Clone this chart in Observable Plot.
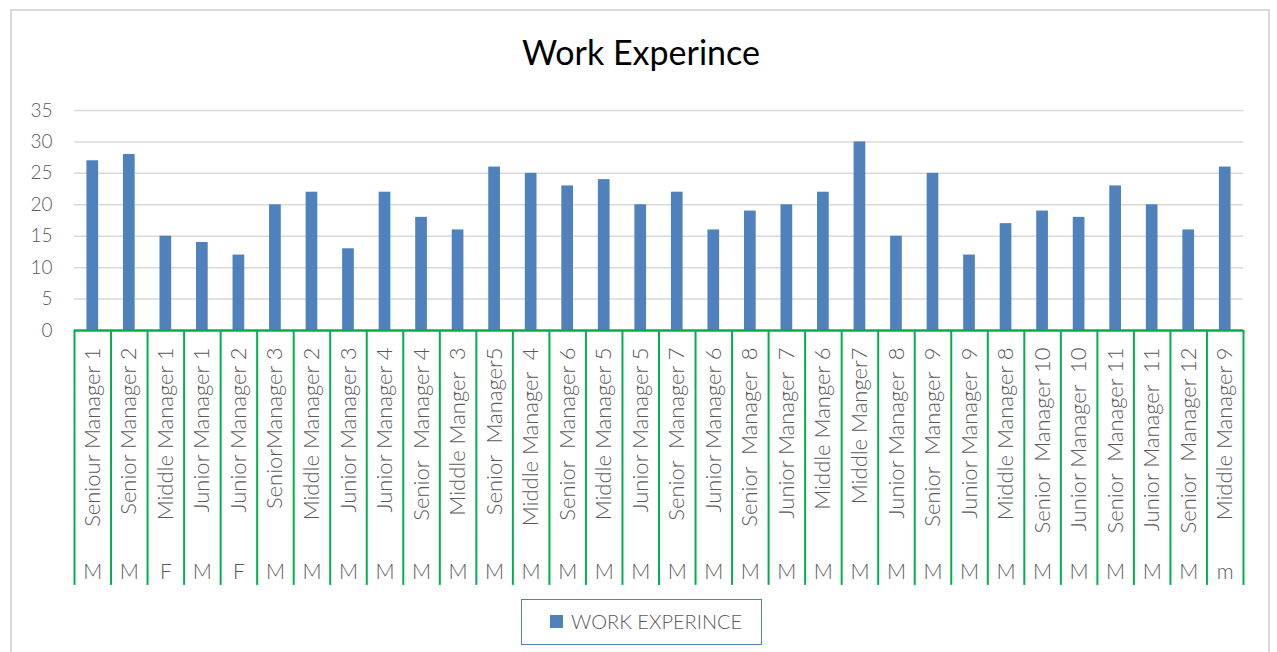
<!DOCTYPE html>
<html>
<head>
<meta charset="utf-8">
<script src="https://cdn.jsdelivr.net/npm/d3@7"></script>
<script src="https://cdn.jsdelivr.net/npm/@observablehq/plot@0.6"></script>
<style>
  html, body { margin: 0; padding: 0; background: #fff; }
  #wrap { position: relative; width: 1277px; height: 652px; overflow: hidden; background: #fff; font-family: Lato, "Noto Sans", sans-serif; }
  #frame { position: absolute; left: 10px; top: 9px; width: 1260px; height: 700px; border: 2px solid #d9d9d9; box-sizing: border-box; }
  #title { position: absolute; left: 0; width: 1282px; top: 31px; text-align: center; font-size: 34px; color: #000; font-family: Lato, sans-serif; }
  #chart { position: absolute; left: 0; top: 90px; }
  #chart svg text { white-space: pre; }
  #legend { position: absolute; left: 521px; top: 599px; width: 241px; height: 46px; box-sizing: border-box; border: 1.5px solid #4f81bd; }
  #legend .sw { position: absolute; left: 28px; top: 15px; width: 13px; height: 13px; background: #4f81bd; }
  #legend .lb { position: absolute; left: 49px; top: 9px; font-size: 20px; font-weight: 300; color: #595959; white-space: nowrap; }
</style>
</head>
<body>
<div id="wrap">
  <div id="frame"></div>
  <div id="title">Work Experince</div>
  <div id="chart"></div>
  <div id="legend"><div class="sw"></div><div class="lb">WORK EXPERINCE</div></div>
</div>
<script>
const categories = [
  "Seniour Manager 1", "Senior Manager 2", "Middle Manager 1", "Junior Manager 1",
  "Junior Manager 2", "SeniorManager 3", "Middle Manager 2", "Junior Manager 3",
  "Junior Manager 4", "Senior  Manager 4", "Middle Manger  3", "Senior  Manager5",
  "Middle Manager  4", "Senior  Manager 6", "Middle Manager 5", "Junior Manager 5",
  "Senior  Manager 7", "Junior Manager 6", "Senior  Manager  8", "Junior Manager  7",
  "Middle Manger 6", "Middle Manger7", "Junior Manager  8", "Senior  Manager  9",
  "Junior Manager  9", "Middle Manager 8", "Senior  Manager 10", "Junior Manager  10",
  "Senior  Manager 11", "Junior Manager  11", "Senior  Manager 12", "Middle Manager 9"
];
const genders = [
  "M", "M", "F", "M", "F", "M", "M", "M", "M", "M", "M", "M", "M", "M", "M", "M",
  "M", "M", "M", "M", "M", "M", "M", "M", "M", "M", "M", "M", "M", "M", "M", "m"
];
const workExperience = [
  27, 28, 15, 14, 12, 20, 22, 13, 22, 18, 16, 26, 25, 23, 24, 20,
  22, 16, 19, 20, 22, 30, 15, 25, 12, 17, 19, 18, 23, 20, 16, 26
];
const yTicks = [0, 5, 10, 15, 20, 25, 30, 35];
const seriesName = "WORK EXPERINCE";

const data = categories.map((c, i) => ({name: c, gender: genders[i], value: workExperience[i]}));
const genderOf = new Map(data.map(d => [d.name, d.gender]));

const W = 1277, H = 510, ML = 74, MR = 34, MT = 20, MB = 270;
const step = (W - ML - MR) / categories.length;
const labelDepth = -40.55; // extent of the label grid below zero, in y units
const green = "#00b050";
const grey = "#595959";

const chart = Plot.plot({
  width: W, height: H,
  marginLeft: ML, marginRight: MR, marginTop: MT, marginBottom: MB,
  style: {fontFamily: "Lato, 'Noto Sans', sans-serif", background: "transparent", overflow: "visible"},
  x: {domain: categories, paddingInner: 0.68, paddingOuter: 0.34, round: false, axis: null, label: null},
  y: {domain: [0, 35], axis: null, label: null},
  marks: [
    Plot.gridY(yTicks.filter(t => t > 0), {stroke: "#d9d9d9", strokeOpacity: 1, strokeWidth: 1.5}),
    Plot.axisY(yTicks, {tickSize: 0, tickPadding: 22, fontSize: 19, fill: grey, fontWeight: 300, label: null}),
    Plot.barY(data, {x: "name", y: "value", fill: "#4f81bd"}),
    Plot.ruleX(categories, {x: d => d, y1: 0, y2: labelDepth, dx: -step / 2, stroke: green, strokeWidth: 2}),
    Plot.ruleX([categories[categories.length - 1]], {x: d => d, y1: 0, y2: labelDepth, dx: step / 2, stroke: green, strokeWidth: 2}),
    Plot.ruleY([0], {stroke: green, strokeWidth: 2.5}),
    Plot.axisX({anchor: "bottom", tickSize: 0, tickPadding: 17, rotate: -90, textAnchor: "end", lineAnchor: "middle", fontSize: 22, fontWeight: 300, fill: grey, label: null}),
    Plot.axisX({anchor: "bottom", tickSize: 0, tickPadding: 242, lineAnchor: "middle", tickFormat: d => genderOf.get(d), fontSize: 21, fontWeight: 300, fill: grey, label: null})
  ]
});
document.getElementById("chart").appendChild(chart);
</script>
</body>
</html>
